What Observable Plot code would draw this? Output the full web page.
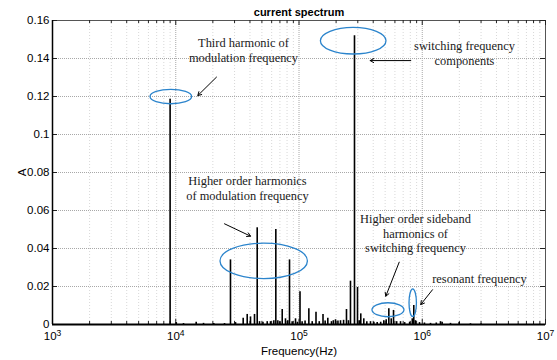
<!DOCTYPE html>
<html>
<head>
<meta charset="utf-8">
<script src="https://cdn.jsdelivr.net/npm/d3@7"></script>
<script src="https://cdn.jsdelivr.net/npm/@observablehq/plot@0.6"></script>
<style>
  html, body { margin: 0; padding: 0; background: #fff; }
</style>
</head>
<body>
<div id="chart"></div>
<script>
// ---------- data ----------
const titleText = "current spectrum";
const xLabel = "Frequency(Hz)";
const yLabel = "A";

const xTicksMajor = [1e3, 1e4, 1e5, 1e6, 1e7];
const xTickBase = ["10", "10", "10", "10", "10"];
const xTickExp = ["3", "4", "5", "6", "7"];
const minorDecades = [1e3, 1e4, 1e5, 1e6];
const minorMultipliers = [2, 3, 4, 5, 6, 7, 8, 9];
const yTicks = [0, 0.02, 0.04, 0.06, 0.08, 0.1, 0.12, 0.14, 0.16];
const yTickLabels = ["0", "0.02", "0.04", "0.06", "0.08", "0.1", "0.12", "0.14", "0.16"];

// spectrum lines (frequency in Hz, amplitude in A)
const spikeFreq = [
  9000, 10100, 11560, 14650, 16800, 20350, 24870, 27800, 30550, 35250,
  38000, 40420, 43550, 45800, 47830, 51000, 55230, 58730, 62480, 64860,
  67340, 70000, 73100, 77700, 81130, 83750, 88000, 93700, 97000, 101900,
  106000, 112000, 120200, 128000, 137400, 146000, 156600, 163000, 171300, 183500,
  190000, 197800, 207000, 217200, 230000, 242800, 252000, 261600, 282000, 298300,
  308000, 317100, 335500, 355000, 380300, 405000, 430900, 460000, 487500, 510000,
  535600, 560000, 584700, 620000, 666400, 720000, 790000, 830000, 853700, 880000,
  950000, 1042000, 1167000, 1300000, 1406000, 1450000, 1695000, 1994000, 2462000, 3000000
];
const spikeAmp = [
  0.1186, 0.0010, 0.0005, 0.0012, 0.0006, 0.0005, 0.0005, 0.0340, 0.0010, 0.0033,
  0.0053, 0.0040, 0.0053, 0.0509, 0.0015, 0.0012, 0.0015, 0.0015, 0.0020, 0.0500,
  0.0020, 0.0015, 0.0079, 0.0030, 0.0020, 0.0340, 0.0015, 0.0030, 0.0012, 0.0172,
  0.0015, 0.0018, 0.0083, 0.0015, 0.0065, 0.0015, 0.0052, 0.0018, 0.0033, 0.0015,
  0.0020, 0.0025, 0.0018, 0.0020, 0.0022, 0.0079, 0.0020, 0.0228, 0.1520, 0.0195,
  0.0020, 0.0056, 0.0030, 0.0015, 0.0015, 0.0012, 0.0010, 0.0012, 0.0020, 0.0025,
  0.0083, 0.0030, 0.0074, 0.0015, 0.0015, 0.0010, 0.0012, 0.0030, 0.0100, 0.0020,
  0.0010, 0.0008, 0.0006, 0.0008, 0.0015, 0.0012, 0.0006, 0.0010, 0.0004, 0.0003
];

// annotations
const noteText = [
  "Third harmonic of", "modulation frequency",
  "switching frequency", "components",
  "Higher order harmonics", "of modulation frequency",
  "Higher order sideband", "harmonics of", "switching frequency",
  "resonant frequency"
];
const noteF = [35450, 35450, 2202000, 2202000, 38200, 38200, 881000, 881000, 881000, 2913000];
const noteA = [0.1458, 0.1379, 0.1447, 0.1368, 0.0732, 0.0653, 0.0532, 0.0453, 0.0379, 0.0218];

const arrowF1 = [21410, 807000, 24860, 650000, 1211000];
const arrowA1 = [0.1302, 0.1389, 0.0530, 0.0328, 0.0183];
const arrowF2 = [15100, 378000, 40420, 506000, 972000];
const arrowA2 = [0.1205, 0.1389, 0.0465, 0.0149, 0.0105];

const ellipseF = [9205, 277800, 52200, 532000, 844700];
const ellipseA = [0.1197, 0.1491, 0.0332, 0.0075, 0.0112];
const ellipseRx = [20.8, 32.8, 43.7, 16, 3.7];
const ellipseRy = [7.2, 13.3, 17.7, 7, 13.8];

// ---------- tables ----------
const spikes = spikeFreq.map((f, i) => ({f, a: spikeAmp[i]}));
const notes = noteText.map((t, i) => ({t, f: noteF[i], a: noteA[i]}));
const arrows = arrowF1.map((f, i) => ({f1: f, a1: arrowA1[i], f2: arrowF2[i], a2: arrowA2[i]}));
const ellipses = ellipseF.map((f, i) => ({f, a: ellipseA[i], rx: ellipseRx[i], ry: ellipseRy[i]}));
const xTicksMinor = minorDecades.flatMap(d => minorMultipliers.map(m => m * d));
const xTickLabels = xTicksMajor.map((v, i) => ({v, base: xTickBase[i], exp: xTickExp[i]}));

const W = 557, H = 360, mL = 52, mR = 12, mT = 20, mB = 36;
const frameH = H - mT - mB, frameW = W - mL - mR;

const sans = "'Liberation Sans', Arial, Helvetica, sans-serif";
const serif = "'Liberation Serif', 'Times New Roman', serif";

const plot = Plot.plot({
  width: W,
  height: H,
  marginLeft: mL,
  marginRight: mR,
  marginTop: mT,
  marginBottom: mB,
  style: {fontFamily: sans, fontSize: "11.5px", background: "#fff", color: "#000"},
  x: {type: "log", domain: [1e3, 1e7], label: null},
  y: {domain: [0, 0.16], label: null},
  marks: [
    // minor grid
    Plot.ruleX(xTicksMinor, {x: d => d, stroke: "#d8d8d8", strokeDasharray: "1,2", strokeWidth: 1}),
    // major grid
    Plot.ruleX(xTicksMajor, {x: d => d, stroke: "#a8a8a8", strokeDasharray: "1,1", strokeWidth: 1}),
    Plot.ruleY(yTicks, {y: d => d, stroke: "#a8a8a8", strokeDasharray: "1,1", strokeWidth: 1}),
    // frame
    Plot.frame({stroke: "#555", strokeWidth: 1}),
    // ticks inward
    Plot.tickX(xTicksMajor, {x: d => d, insetTop: frameH - 5, stroke: "#222"}),
    Plot.tickX(xTicksMajor, {x: d => d, insetBottom: frameH - 5, stroke: "#222"}),
    Plot.tickX(xTicksMinor, {x: d => d, insetTop: frameH - 3, stroke: "#222"}),
    Plot.tickX(xTicksMinor, {x: d => d, insetBottom: frameH - 3, stroke: "#222"}),
    Plot.tickY(yTicks, {y: d => d, insetRight: frameW - 5, stroke: "#222"}),
    Plot.tickY(yTicks, {y: d => d, insetLeft: frameW - 5, stroke: "#222"}),
    // axes text
    Plot.axisX({
      ticks: xTicksMajor,
      tickFormat: d => xTickLabels[xTicksMajor.indexOf(d)].base + "^" + xTickLabels[xTicksMajor.indexOf(d)].exp,
      tickSize: 0, tickPadding: 7,
      label: xLabel, labelAnchor: "center", labelOffset: 30, labelArrow: "none",
      fontSize: 11.5
    }),
    Plot.axisY({
      ticks: yTicks,
      tickFormat: d => yTickLabels[yTicks.indexOf(d)],
      tickSize: 0, tickPadding: 3,
      label: yLabel, labelAnchor: "center", labelOffset: 35, labelArrow: "none",
      fontSize: 11.5
    }),
    // spectrum
    Plot.ruleX(spikes, {x: "f", y1: 0, y2: "a", stroke: "#000", strokeWidth: 1.6}),
    Plot.ruleY([0], {stroke: "#000", strokeWidth: 2}),
    Plot.ruleX([1e3], {stroke: "#000", strokeWidth: 1.5}),
    // annotations
    Plot.text(notes, {x: "f", y: "a", text: "t", fontFamily: serif, fontSize: 12.4, lineAnchor: "bottom", textAnchor: "middle", fill: "#1a1a1a"}),
    Plot.arrow(arrows, {x1: "f1", y1: "a1", x2: "f2", y2: "a2", stroke: "#000", strokeWidth: 1, headLength: 6}),
    // title
    Plot.text([titleText], {frameAnchor: "top", lineAnchor: "bottom", dy: -5, fontWeight: "bold", fontSize: 11, fill: "#000"})
  ]
});

// superscript exponents on the x tick labels
d3.select(plot).selectAll("text").each(function () {
  const t = this.textContent;
  const m = /^(10)\^(\d)$/.exec(t);
  if (!m) return;
  const sel = d3.select(this);
  sel.text(null);
  sel.append("tspan").text(m[1]);
  sel.append("tspan").attr("dy", "-0.42em").attr("font-size", "8.5px").text(m[2]);
});

const sx = plot.scale("x"), sy = plot.scale("y");
d3.select(plot).append("g")
  .attr("fill", "none")
  .attr("stroke", "#2b84cc")
  .attr("stroke-width", 1.3)
  .selectAll("ellipse")
  .data(ellipses)
  .join("ellipse")
  .attr("cx", d => sx.apply(d.f))
  .attr("cy", d => sy.apply(d.a))
  .attr("rx", d => d.rx)
  .attr("ry", d => d.ry);

document.getElementById("chart").appendChild(plot);
</script>
</body>
</html>
